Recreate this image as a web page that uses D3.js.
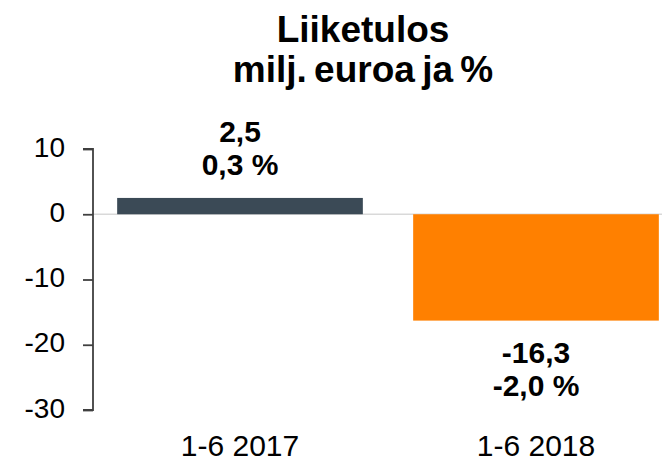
<!DOCTYPE html>
<html><head><meta charset="utf-8">
<script src="https://cdn.jsdelivr.net/npm/d3@7"></script>
<style>body{margin:0;background:#fff}svg{display:block;font-family:"Liberation Sans",Arial,sans-serif}</style>
</head><body>
<svg id="c" width="666" height="461"></svg>
<script>
const categories = ["1-6 2017", "1-6 2018"];
const values = [2.5, -16.3];
const valueLabels = ["2,5", "-16,3"];
const pctLabels = ["0,3 %", "-2,0 %"];
const colors = ["#3b4a56", "#ff8000"];
const yTicks = [10, 0, -10, -20, -30];
const titleLines = ["Liiketulos", "milj. euroa ja %"];

const svg = d3.select("#c");
const y = d3.scaleLinear().domain([-30, 10]).range([410, 149]);
const x = d3.scaleBand().domain(categories).range([92, 684]).paddingInner(0.17).paddingOuter(0.085);

// title
svg.append("g").selectAll("text").data(titleLines).join("text")
  .attr("x", 363).attr("y", (d, i) => 42 + i * 40)
  .attr("text-anchor", "middle").attr("font-size", 37).attr("font-weight", "bold")
  .attr("word-spacing", -3)
  .attr("fill", "#000").text(d => d);

// zero line
svg.append("line").attr("x1", 93).attr("x2", 662).attr("y1", y(0)).attr("y2", y(0))
  .attr("stroke", "#d9d9d9").attr("stroke-width", 1.5);

// bars
svg.append("g").selectAll("rect").data(values).join("rect")
  .attr("x", (d, i) => x(categories[i]))
  .attr("width", x.bandwidth())
  .attr("y", d => y(Math.max(0, d)))
  .attr("height", d => Math.abs(y(d) - y(0)))
  .attr("fill", (d, i) => colors[i]);

// y axis
const yAxis = d3.axisLeft(y).tickValues(yTicks).tickSize(10).tickPadding(18).tickFormat(d => d);
const ga = svg.append("g").attr("transform", "translate(93,0)").call(yAxis);
ga.select(".domain").attr("stroke", "#404040").attr("stroke-width", 1.8).attr("d", `M-10,${y(10)}H0V${y(-30)}H-10`);
ga.selectAll(".tick line").attr("stroke", "#404040").attr("stroke-width", 1.8);
ga.selectAll(".tick text").attr("font-size", 28).attr("fill", "#000").attr("dy", "0.25em").attr("font-family", "Liberation Sans, Arial, sans-serif");

// category labels
svg.append("g").selectAll("text").data(categories).join("text")
  .attr("x", d => x(d) + x.bandwidth() / 2).attr("y", 456)
  .attr("text-anchor", "middle").attr("font-size", 30).attr("fill", "#000").text(d => d);

// value labels
const lab = svg.append("g").selectAll("g").data(values).join("g")
  .attr("transform", (d, i) => {
    const cx = x(categories[i]) + x.bandwidth() / 2;
    const by = d >= 0 ? y(d) - 56 : y(d) + 42;
    return `translate(${cx},${by})`;
  });
lab.append("text").attr("text-anchor", "middle").attr("font-size", 30).attr("font-weight", "bold")
  .attr("y", 0).text((d, i) => valueLabels[i]);
lab.append("text").attr("text-anchor", "middle").attr("font-size", 30).attr("font-weight", "bold")
  .attr("y", 33).text((d, i) => pctLabels[i]);
</script>
</body></html>
